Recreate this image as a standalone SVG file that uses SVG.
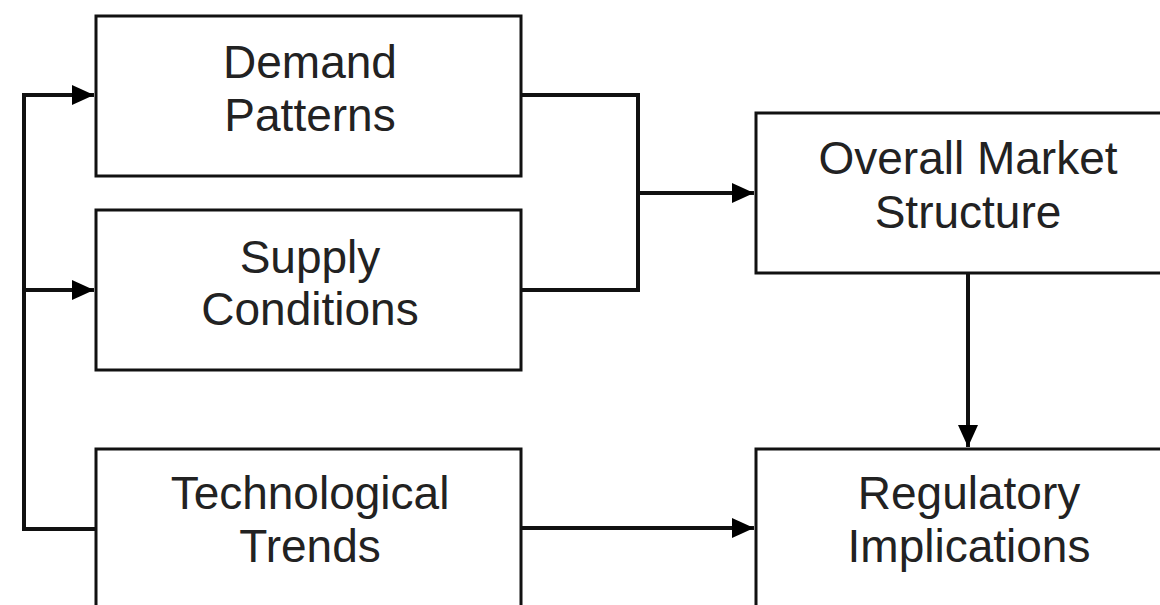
<svg xmlns="http://www.w3.org/2000/svg" width="1160" height="605" viewBox="0 0 1160 605">
<style>
.box{fill:#fff;stroke:#111;stroke-width:3}
.lbl{font-family:"Liberation Sans",Arial,sans-serif;font-size:46px;fill:#222;text-anchor:middle}
.con{fill:none;stroke:#111;stroke-width:4}
</style>
<defs>
<marker id="ah" markerUnits="userSpaceOnUse" markerWidth="24" markerHeight="24" viewBox="0 0 24 24" refX="22" refY="12" orient="auto">
<path d="M0,2 L22,12 L0,22 Z" fill="#000"/>
</marker>
</defs>
<rect width="1160" height="605" fill="#fff"/>
<g id="demand"><rect class="box" x="96" y="16" width="425" height="160"/><text class="lbl" x="310" y="78">Demand</text><text class="lbl" x="310" y="131">Patterns</text></g>
<g id="supply"><rect class="box" x="96" y="210" width="425" height="160"/><text class="lbl" x="310" y="273">Supply</text><text class="lbl" x="310" y="325">Conditions</text></g>
<g id="tech"><rect class="box" x="96" y="449" width="425" height="180"/><text class="lbl" x="310" y="509">Technological</text><text class="lbl" x="310" y="562">Trends</text></g>
<g id="overall"><rect class="box" x="756" y="113" width="425" height="160"/><text class="lbl" x="968" y="174">Overall Market</text><text class="lbl" x="968" y="228">Structure</text></g>
<g id="regulatory"><rect class="box" x="756" y="449" width="425" height="180"/><text class="lbl" x="969" y="509">Regulatory</text><text class="lbl" x="969" y="562">Implications</text></g>
<g id="connectors">
<path class="con" d="M96,529 H24 V95 H94" marker-end="url(#ah)"/>
<path class="con" d="M24,290 H94" marker-end="url(#ah)"/>
<path class="con" d="M521,95 H638 V290 H521"/>
<path class="con" d="M638,193 H754" marker-end="url(#ah)"/>
<path class="con" d="M521,528 H754" marker-end="url(#ah)"/>
<path class="con" d="M968,273 V447" marker-end="url(#ah)"/>
</g>
</svg>
